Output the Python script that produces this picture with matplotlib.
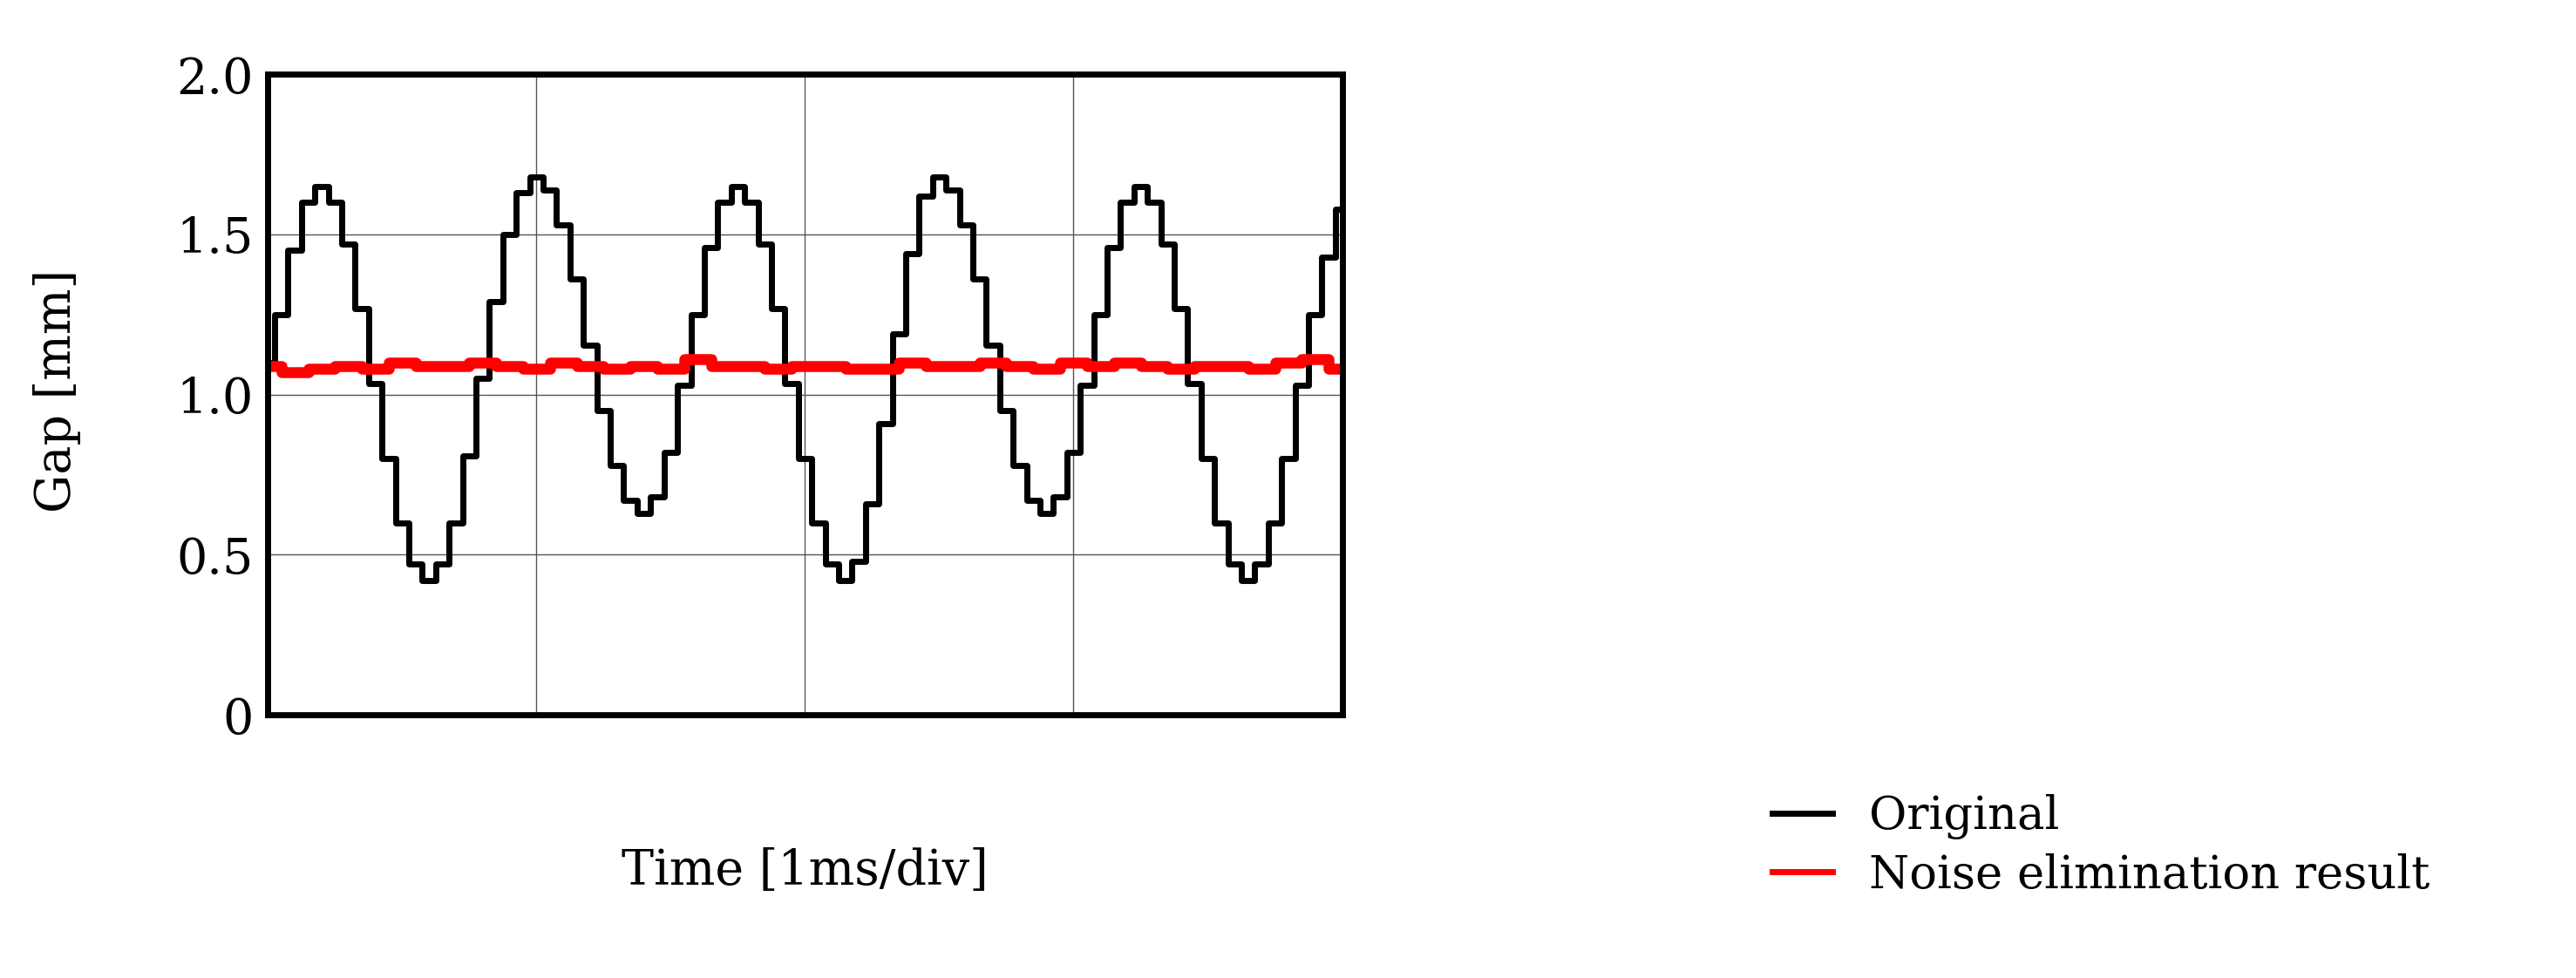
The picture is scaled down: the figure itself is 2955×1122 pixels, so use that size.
import matplotlib
matplotlib.use("Agg")
import matplotlib.pyplot as plt
import numpy as np

time_div = [round(0.05*i, 2) for i in range(81)]
original = [1.10,1.25,1.45,1.60,1.65,1.60,1.47,1.27,1.035,0.80,0.60,0.47,0.42,
            0.47,0.60,0.81,1.05,1.29,1.50,1.63,1.68,
            1.64,1.53,1.36,1.155,0.95,0.78,0.67,0.63,
            0.68,0.82,1.03,1.25,1.46,1.60,1.65,
            1.60,1.47,1.27,1.035,0.80,0.60,0.47,0.42,
            0.48,0.66,0.91,1.19,1.44,1.62,1.68,
            1.64,1.53,1.36,1.155,0.95,0.78,0.67,0.63,
            0.68,0.82,1.03,1.25,1.46,1.60,1.65,
            1.60,1.47,1.27,1.035,0.80,0.60,0.47,0.42,
            0.47,0.60,0.80,1.03,1.25,1.43,1.58]
red_t = [round(0.1*i, 1) for i in range(41)]
filtered = [1.09,1.07,1.08,1.09,1.08,1.10,1.09,1.09,1.10,1.09,1.08,1.10,1.09,1.08,
            1.09,1.08,1.11,1.09,1.09,1.08,1.09,1.09,1.08,1.08,1.10,1.09,1.09,1.10,
            1.09,1.08,1.10,1.09,1.10,1.09,1.08,1.09,1.09,1.08,1.10,1.11,1.08]

plt.rcParams['font.family'] = ['DejaVu Serif']
fig = plt.figure(figsize=(29.55, 11.22), dpi=100)
ax = fig.add_axes([0.104, 0.269, 0.417, 0.655])
ax.plot(time_div, original, color='black', lw=5, drawstyle='steps-mid', label='Original')
ax.plot(red_t, filtered, color='#ff0000', lw=9, drawstyle='steps-mid', label='Noise elimination result')
ax.set_xlim(0, 4)
ax.set_ylim(0, 2.0)
ax.set_xticks([1, 2, 3])
ax.set_xticklabels([])
ax.set_yticks([0, 0.5, 1.0, 1.5, 2.0])
ax.set_yticklabels(['0', '0.5', '1.0', '1.5', '2.0'], fontsize=40)
ax.tick_params(length=0, pad=12)
ax.grid(True, color='#555555', lw=1)
for s in ax.spines.values():
    s.set_linewidth(5)
fig.text(0.022, 0.6, 'Gap [mm]', rotation=90, ha='center', va='center', fontsize=40)
fig.text(0.3125, 0.109, 'Time [1ms/div]', ha='center', va='center', fontsize=40)
h, l = ax.get_legend_handles_labels()
leg = fig.legend(h, l, loc='center left', bbox_to_anchor=(0.672, 0.135), frameon=False,
                 fontsize=38, handlelength=1.3, labelspacing=0.3)
for ln in leg.get_lines():
    ln.set_linewidth(5)
fig.savefig('out.png', dpi=100)
